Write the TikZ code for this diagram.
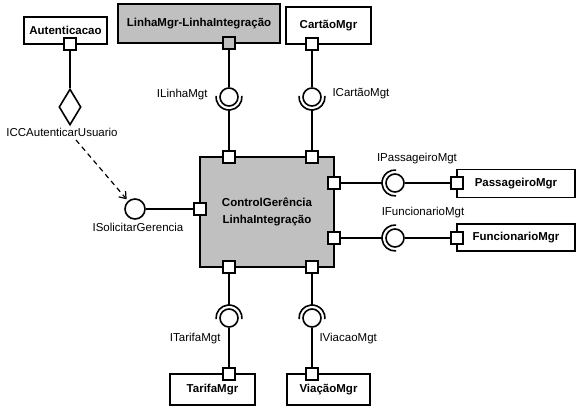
\documentclass[tikz,border=0pt]{standalone}
\usepackage{fontspec}
\setmainfont{Liberation Sans}
\usetikzlibrary{shapes.geometric,arrows.meta}
\definecolor{boxgray}{RGB}{192,192,192}
\tikzset{
  comp/.style={draw, line width=1.6pt, fill=white, inner sep=0pt, font=\fontsize{11.5}{14}\selectfont\bfseries},
  port/.style={draw, line width=1.6pt, fill=white, minimum size=12pt, inner sep=0pt},
  ball/.style={draw, circle, line width=1.6pt, fill=white, minimum size=18pt, inner sep=0pt},
  wire/.style={line width=1.6pt}
}
\begin{document}
\begin{tikzpicture}[x=1pt,y=-1pt,font=\fontsize{11.5}{14}\selectfont]
\useasboundingbox (0,0) rectangle (582,418);

\node[comp, minimum width=83pt, minimum height=27pt] (auth) at (65.5,30.5) {Autenticacao};
\node[comp, fill=boxgray, minimum width=162pt, minimum height=39pt] (linha) at (199,23.5) {LinhaMgr-LinhaIntegração};
\node[comp, minimum width=85pt, minimum height=37pt] (cartao) at (328.5,25.5) {CartãoMgr};
\node[comp, fill=boxgray, minimum width=134pt, minimum height=110pt, align=center] (ctrl) at (267,212) {ControlGerência\\[3pt]LinhaIntegração};
\node[comp, minimum width=118pt, minimum height=28pt] (pass) at (516,183.5) {PassageiroMgr};
\node[comp, minimum width=118pt, minimum height=27pt] (func) at (516,237.5) {FuncionarioMgr};
\node[comp, minimum width=85pt, minimum height=31pt] (tarifa) at (212.5,389.5) {TarifaMgr};
\node[comp, minimum width=83pt, minimum height=31pt] (viacao) at (328.5,389.5) {ViaçãoMgr};

\node[port] (pAuth) at (70,44) {};
\node[port, fill=boxgray] (pLinha) at (229,43) {};
\node[port] (pCartao) at (312,44) {};
\node[port] (pTopL) at (229,157) {};
\node[port] (pTopR) at (312,157) {};
\node[port] (pLeft) at (200,209) {};
\node[port] (pRightA) at (334,183) {};
\node[port] (pRightB) at (334,238) {};
\node[port] (pBotL) at (229,267) {};
\node[port] (pBotR) at (312,267) {};
\node[port] (pPass) at (457,183) {};
\node[port] (pFunc) at (457,238) {};
\node[port] (pTarifa) at (229,374) {};
\node[port] (pViacao) at (312,374) {};

\node[ball] (bLinha) at (229,97) {};
\node[ball] (bCartao) at (312,97) {};
\node[ball] (bPass) at (395,183) {};
\node[ball] (bFunc) at (395,238) {};
\node[ball] (bTarifa) at (229,318) {};
\node[ball] (bViacao) at (312,318) {};
\node[ball, minimum size=20pt] (bSolic) at (135,209) {};

\foreach \b/\a in {bLinha/90, bCartao/90, bTarifa/270, bViacao/270, bPass/180, bFunc/180}{
  \draw[wire] ([shift={(\a-95:13)}]\b.center) arc[start angle=\a-95, end angle=\a+95, radius=13];
  \coordinate (\b-s) at ([shift={(\a:13)}]\b.center);
}

\node[draw, diamond, line width=1.6pt, fill=white, minimum width=22pt, minimum height=36pt, inner sep=0pt] (dAuth) at (70,107) {};

\draw[wire] (pAuth) -- (dAuth);
\draw[wire] (pLinha) -- (bLinha);
\draw[wire] (bLinha-s) -- (pTopL);
\draw[wire] (pCartao) -- (bCartao);
\draw[wire] (bCartao-s) -- (pTopR);
\draw[wire] (pRightA) -- (bPass-s);
\draw[wire] (bPass) -- (pPass);
\draw[wire] (pRightB) -- (bFunc-s);
\draw[wire] (bFunc) -- (pFunc);
\draw[wire] (pBotL) -- (bTarifa-s);
\draw[wire] (bTarifa) -- (pTarifa);
\draw[wire] (pBotR) -- (bViacao-s);
\draw[wire] (bViacao) -- (pViacao);
\draw[wire] (bSolic) -- (pLeft);

\node (lICC) at (62,132) {ICCAutenticarUsuario};
\node[anchor=east] (lLinha) at (211,95) {ILinhaMgt};
\node[anchor=west] (lCartao) at (329,94) {ICartãoMgt};
\node (lPass) at (417,159) {IPassageiroMgt};
\node (lFunc) at (423,213) {IFuncionarioMgt};
\node (lSolic) at (138,227) {ISolicitarGerencia};
\node[anchor=east] (lTarifa) at (224,339) {ITarifaMgt};
\node[anchor=west] (lViacao) at (316,339) {IViacaoMgt};

\coordinate (dStart) at (76,140);
\draw[line width=1.2pt, dash pattern=on 5pt off 4pt, -{Straight Barb[length=6pt,width=9pt]}, shorten >=2pt] (dStart) -- (bSolic);
\end{tikzpicture}
\end{document}
